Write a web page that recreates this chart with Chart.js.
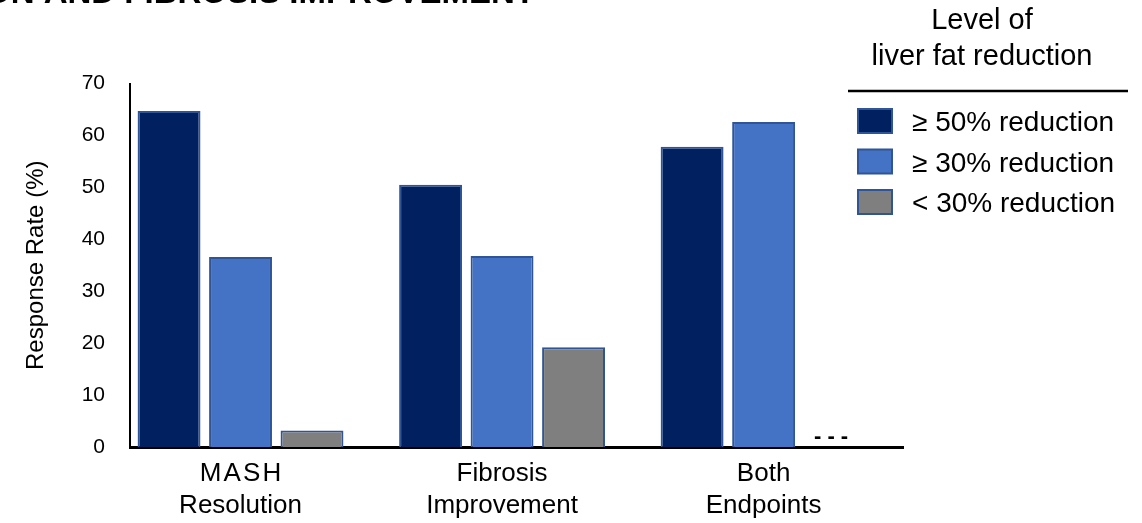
<!DOCTYPE html>
<html lang="en">
<head>
    <meta charset="UTF-8">
    <title>Response Rate by Liver Fat Reduction</title>
    <script src="https://cdn.jsdelivr.net/npm/chart.js"></script>
    <style>
        body {
            margin: 0;
            padding: 0;
            background-color: #fff;
        }
        .chart-box {
            width: 1142px;
            height: 523px;
            position: relative;
        }
    </style>
</head>
<body>
    <div class="chart-box">
        <canvas id="responseChart"></canvas>
    </div>

    <script>
        // Response rate (%) per endpoint, split by level of liver fat reduction
        const categories = [['M\u200AA\u200AS\u200AH', 'Resolution'], ['Fibrosis', 'Improvement'], ['Both', 'Endpoints']];
        const seriesLabels = ['\u2265 50% reduction', '\u2265 30% reduction', '< 30% reduction'];
        const reduction50 = [64.7, 50.5, 57.8];
        const reduction30 = [36.6, 36.8, 62.6];
        const reductionUnder30 = [3.2, 19.2, null];
        const yTicks = [0, 10, 20, 30, 40, 50, 60, 70];

        const legendTitle = ['Level of', 'liver fat reduction'];
        const chartTitle = 'MASH RESOLUTION AND FIBROSIS IMPROVEMENT';
        const missingMark = '- - -';

        const fontFamily = "'Liberation Sans', Arial, sans-serif";
        const fills = ['#002060', '#4472C4', '#7F7F7F'];
        const edge = '#2F5597';

        function toPoints(values) {
            return values.map((v, i) => ({ x: i, y: v }));
        }

        // titles, legend and the dash marker for a missing bar
        const extras = {
            id: 'extras',
            afterDraw(chart) {
                const ctx = chart.ctx;
                const xScale = chart.scales.x;
                const yScale = chart.scales.y;
                ctx.save();
                ctx.fillStyle = '#000';

                // page heading, cut by the top edge
                ctx.font = 'bold 33px ' + fontFamily;
                ctx.textAlign = 'right';
                ctx.textBaseline = 'alphabetic';
                ctx.fillText(chartTitle, 535, 3);

                // legend heading with rule
                ctx.font = '29px ' + fontFamily;
                ctx.textAlign = 'center';
                ctx.fillText(legendTitle[0], 982, 29);
                ctx.fillText(legendTitle[1], 982, 65);
                ctx.strokeStyle = '#000';
                ctx.lineWidth = 2.5;
                ctx.beginPath();
                ctx.moveTo(848, 91);
                ctx.lineTo(1128, 91);
                ctx.stroke();

                // legend entries
                ctx.font = '28px ' + fontFamily;
                ctx.textAlign = 'left';
                chart.data.datasets.forEach((ds, i) => {
                    const cy = 121 + i * 40.5;
                    ctx.fillStyle = edge;
                    ctx.fillRect(857, cy - 13, 36, 26);
                    ctx.fillStyle = ds.backgroundColor;
                    ctx.fillRect(859, cy - 11, 32, 22);
                    ctx.fillStyle = '#000';
                    ctx.fillText(ds.label, 912, cy + 10);
                });

                // dashes where a bar has no value
                chart.data.datasets.forEach((ds, di) => {
                    const meta = chart.getDatasetMeta(di);
                    ds.data.forEach((pt) => {
                        if (pt.y !== null) return;
                        const refIndex = ds.data.findIndex(p => p.y !== null);
                        const shift = meta.data[refIndex].x - xScale.getPixelForValue(ds.data[refIndex].x);
                        const x = xScale.getPixelForValue(pt.x) + shift;
                        ctx.font = 'bold 22px ' + fontFamily;
                        ctx.textAlign = 'center';
                        ctx.fillText(missingMark, x - 4, yScale.getPixelForValue(0) - 4);
                    });
                });
                ctx.restore();
            }
        };

        const datasetValues = [reduction50, reduction30, reductionUnder30];

        new Chart(document.getElementById('responseChart').getContext('2d'), {
            type: 'bar',
            data: {
                datasets: datasetValues.map((vals, i) => ({
                    label: seriesLabels[i],
                    data: toPoints(vals),
                    backgroundColor: fills[i],
                    borderColor: edge,
                    borderWidth: 2,
                    categoryPercentage: 0.82,
                    barPercentage: 0.88
                }))
            },
            options: {
                responsive: true,
                maintainAspectRatio: false,
                animation: false,
                layout: {
                    padding: { left: 0, right: 239, top: 83.5, bottom: 0 }
                },
                plugins: {
                    legend: { display: false },
                    tooltip: { enabled: false }
                },
                scales: {
                    x: {
                        type: 'linear',
                        offset: false,
                        min: -0.4226,
                        max: 2.533,
                        grid: { display: false, drawTicks: false },
                        border: { display: true, color: '#000', width: 3 },
                        afterBuildTicks(scale) {
                            scale.ticks = categories.map((c, i) => ({ value: i }));
                        },
                        afterFit(scale) {
                            scale.height = 76;
                        },
                        ticks: {
                            color: '#000',
                            padding: 11,
                            font: { family: fontFamily, size: 26, lineHeight: 1.23 },
                            callback: (v) => categories[v]
                        }
                    },
                    y: {
                        min: yTicks[0],
                        max: yTicks[yTicks.length - 1],
                        grid: { display: false, drawTicks: false },
                        border: { display: true, color: '#000', width: 2 },
                        afterBuildTicks(scale) {
                            scale.ticks = yTicks.map(v => ({ value: v }));
                        },
                        afterFit(scale) {
                            scale.width = 130;
                        },
                        ticks: {
                            color: '#000',
                            padding: 25,
                            font: { family: fontFamily, size: 21 }
                        },
                        title: {
                            display: true,
                            text: 'Response Rate (%)',
                            color: '#000',
                            padding: { top: 22, bottom: 0 },
                            font: { family: fontFamily, size: 24 }
                        }
                    }
                }
            },
            plugins: [extras]
        });
    </script>
</body>
</html>
